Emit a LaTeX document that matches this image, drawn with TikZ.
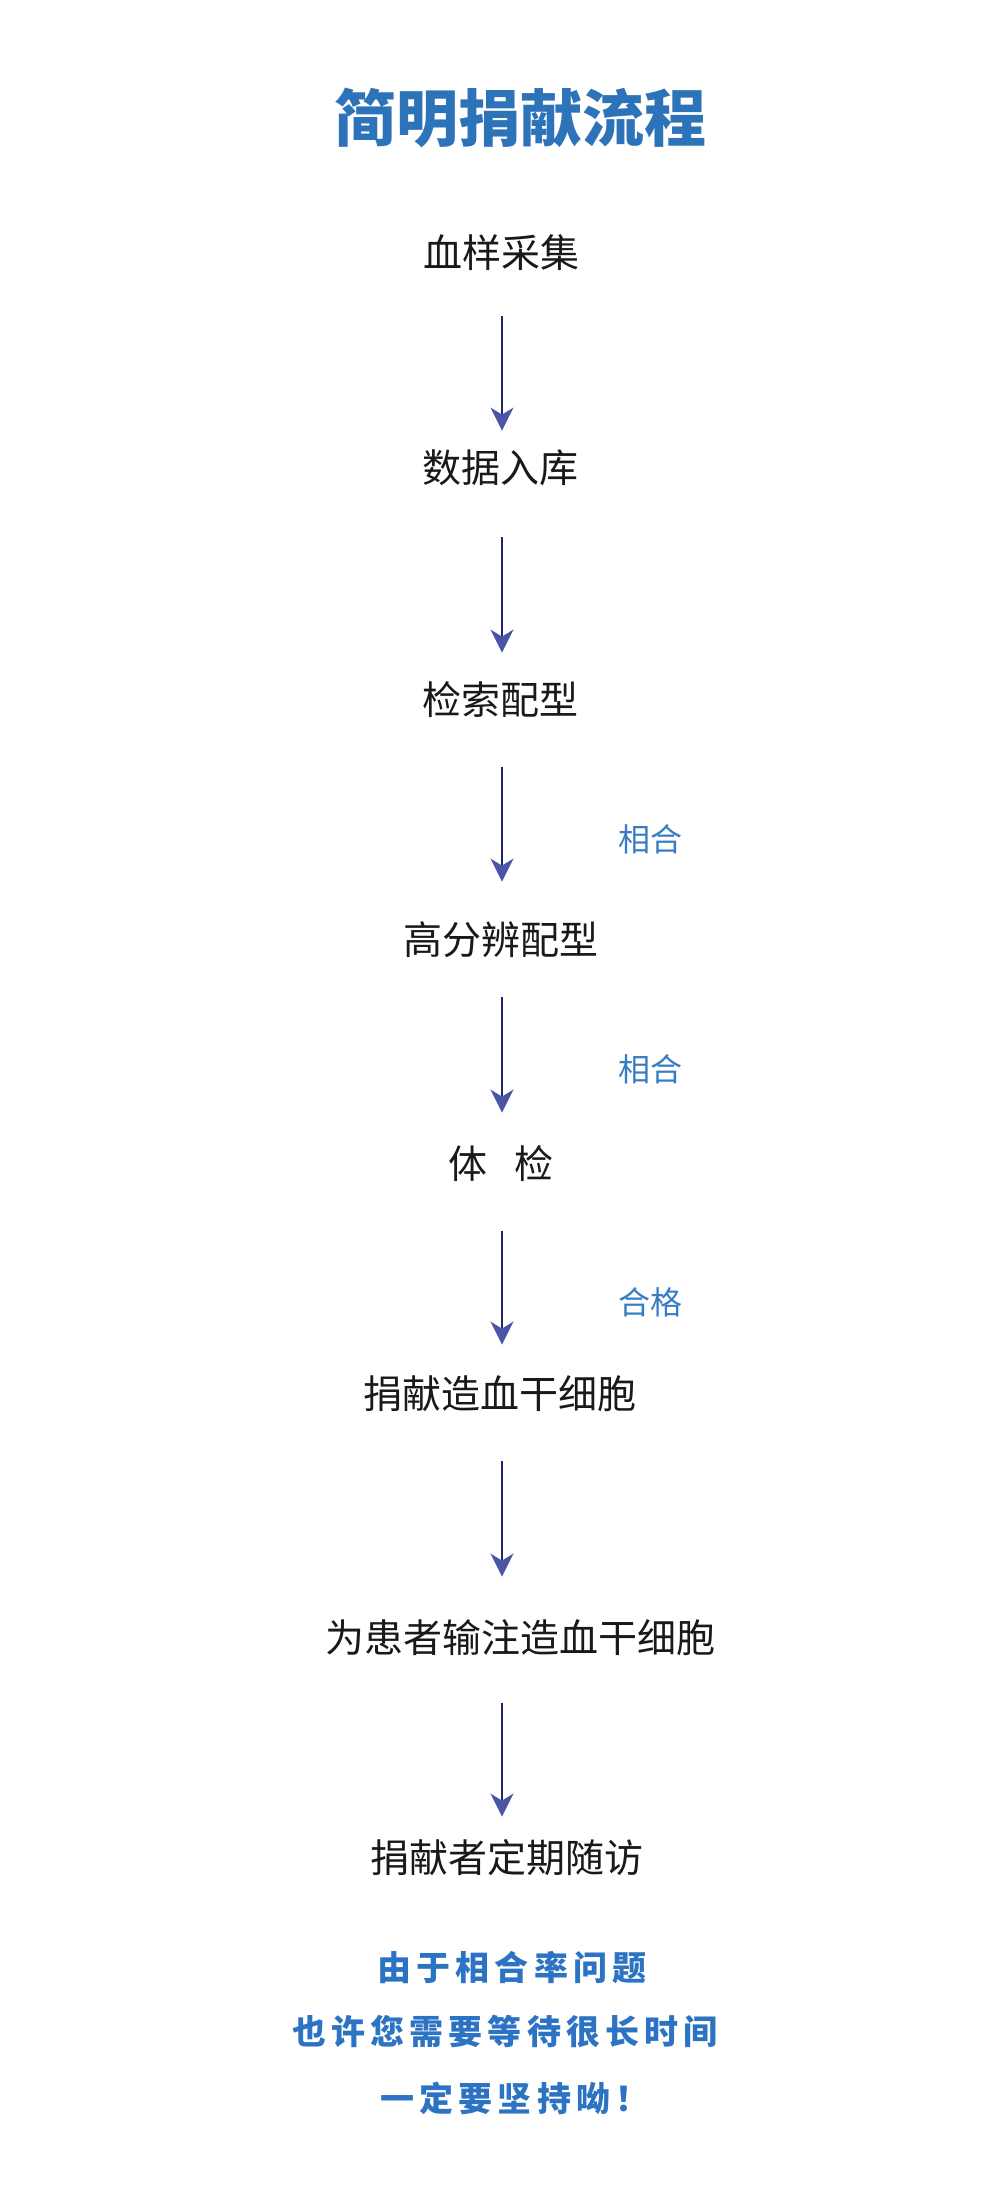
\documentclass[tikz,border=0pt]{standalone}
\usepackage{xcolor}
\usepackage{fontspec}
\setmainfont{Noto Sans CJK SC}
\newfontfamily\notefont{Noto Sans CJK SC}[LetterSpace=15]
\usepackage{tikz}
\usetikzlibrary{arrows.meta,positioning}

\definecolor{titleblue}{RGB}{45,115,185}
\definecolor{labelblue}{RGB}{55,125,195}
\definecolor{noteblue}{RGB}{45,115,195}
\definecolor{arrline}{RGB}{30,40,105}
\definecolor{arrhead}{RGB}{75,85,165}
\definecolor{textgray}{RGB}{25,25,25}

\begin{document}
\begin{tikzpicture}[
  x=0.5pt, y=-0.5pt,
  stepnode/.style={
    inner sep=0pt,
    text height=17.2pt,
    text depth=2.3pt,
    font=\fontsize{19.5pt}{20pt}\selectfont,
    text=textgray
  },
  cond/.style={inner sep=0pt, font=\fontsize{16pt}{16pt}\selectfont, text=labelblue},
  note/.style={inner sep=0pt, font=\notefont\bfseries\fontsize{17pt}{17pt}\selectfont, text=noteblue},
  arrow/.style={arrline, line width=1.2pt,
    -{Stealth[length=11.5pt,width=11.5pt,inset=3.5pt,color=arrhead]}}
]
  \useasboundingbox (0,0) rectangle (1000,2194);

  \node[inner sep=0pt, font=\bfseries\fontsize{31pt}{31pt}\selectfont, text=titleblue] (title) at (520,118) {简明捐献流程};

  \node[stepnode] (collect)  at (501,253)  {血样采集};
  \node[stepnode] (database) at (500,468)  {数据入库};
  \node[stepnode] (search)   at (500,700)  {检索配型};
  \node[stepnode] (hires)    at (501,940)  {高分辨配型};
  \node[stepnode] (exam)     at (501,1164) {体\hspace{13.5pt}检};
  \node[stepnode] (donate)   at (500,1394) {捐献造血干细胞};
  \node[stepnode] (infuse)   at (520,1638) {为患者输注造血干细胞};
  \node[stepnode] (followup) at (507,1858) {捐献者定期随访};

  \node[cond] (match1) at (650,839)  {相合};
  \node[cond] (match2) at (650,1069) {相合};
  \node[cond] (passed) at (650,1302) {合格};

  \node[note] (note1) at (512,1967) {由于相合率问题};
  \node[note] (note2) at (505,2031) {也许您需要等待很长时间};
  \node[note] (note3) at (515,2098) {一定要坚持呦！};

  \coordinate (ax) at (502,0);
  \draw[arrow, shorten <=21.75pt, shorten >=8.75pt]  (ax |- collect.south)  -- (ax |- database.north);
  \draw[arrow, shorten <=24.75pt, shorten >=13.75pt] (ax |- database.south) -- (ax |- search.north);
  \draw[arrow, shorten <=23.75pt, shorten >=19.25pt] (ax |- search.south)   -- (ax |- hires.north);
  \draw[arrow, shorten <=18.75pt, shorten >=15.75pt] (ax |- hires.south)    -- (ax |- exam.north);
  \draw[arrow, shorten <=23.75pt, shorten >=14.75pt] (ax |- exam.south)     -- (ax |- donate.north);
  \draw[arrow, shorten <=23.75pt, shorten >=20.75pt] (ax |- donate.south)   -- (ax |- infuse.north);
  \draw[arrow, shorten <=22.75pt, shorten >=10.75pt] (ax |- infuse.south)   -- (ax |- followup.north);
\end{tikzpicture}
\end{document}
